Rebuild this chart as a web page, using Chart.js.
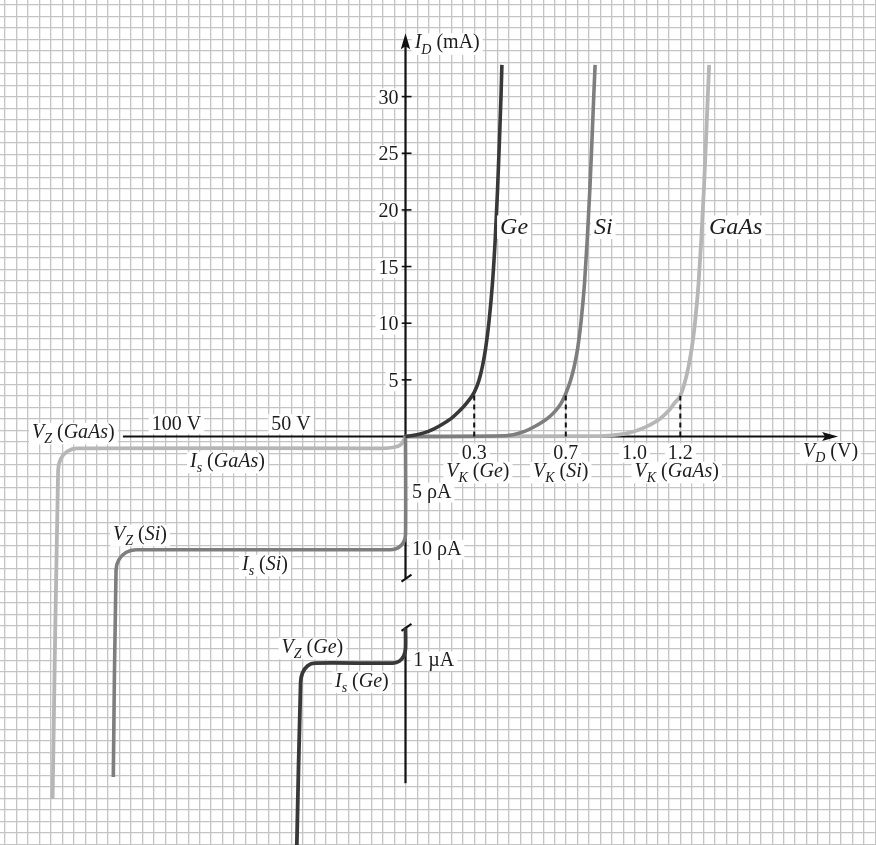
<!DOCTYPE html>
<html><head><meta charset="utf-8">
<script src="https://cdn.jsdelivr.net/npm/chart.js@4.4.1/dist/chart.umd.min.js"></script>
<style>html,body{margin:0;padding:0;background:#fff;}#wrap{width:876px;height:845px;}</style>
</head><body><div id="wrap"><canvas id="c" width="876" height="845"></canvas></div>
<script>
// ---- DATA (forward: volts / mA; reverse side of the V axis is drawn at a 1:100 scale,
//      reverse currents use the broken-axis chart units read off the picture) ----
const REVERSE_SCALE = 100;

const geForward = [[0,0],[0.05,0.15],[0.1,0.45],[0.15,0.95],[0.2,1.6],[0.233,2.2],[0.267,2.95],[0.3,3.9],[0.32,4.9],[0.336,6.2],[0.35,7.8],[0.365,10.2],[0.38,13.6],[0.392,17.5],[0.402,21.8],[0.41,26],[0.417,30],[0.421,32.8]];
const siForward = [[0,0],[0.4,0.04],[0.47,0.16],[0.52,0.45],[0.57,0.95],[0.62,1.6],[0.652,2.2],[0.68,2.95],[0.7,3.8],[0.72,4.9],[0.737,6.2],[0.752,7.8],[0.767,10.2],[0.782,13.6],[0.794,17.5],[0.805,21.8],[0.814,26],[0.822,30],[0.828,32.8]];
const gaasForward = [[0,0],[0.85,0.04],[0.93,0.16],[0.98,0.35],[1.02,0.6],[1.07,1.05],[1.11,1.55],[1.15,2.3],[1.177,3.0],[1.2,3.6],[1.22,4.8],[1.236,6.2],[1.25,7.8],[1.265,10.2],[1.28,13.6],[1.292,17.5],[1.303,21.8],[1.312,26],[1.32,30],[1.326,32.8]];

const geReverse = [[0,-16.9],[0,-18.7],[-0.74,-19.36],[-2.75,-19.84],[-5.5,-20],[-39.5,-20],[-42.7,-20.23],[-45,-20.88],[-45.8,-21.75],[-47.5,-36.5]];
const siReverse = [[0,0],[0,-8.7],[-0.87,-9.35],[-3.25,-9.83],[-6.5,-10],[-117.7,-10],[-122.1,-10.24],[-125.2,-10.89],[-126.4,-11.77],[-127.6,-30.05]];
const gaasReverse = [[0,0],[-0.5,-0.25],[-2,-0.7],[-5,-0.95],[-10,-1.04],[-143.4,-1.04],[-147.6,-1.3],[-150.6,-2.0],[-151.7,-3.0],[-154.1,-32.0]];

const kneeVoltages = [0.3, 0.7, 1.2];
const kneeCurrents = [3.9, 3.8, 3.6];

const yTickValues = [5, 10, 15, 20, 25, 30];
const xTickValues = [0.3, 0.7, 1.0, 1.2];
const reverseTickValues = [-100, -50];

const xAxisExtent = [-123.4, 1.889];
const yAxisSegments = [[35.6, -12.5], [-16.85, -30.6]];

const colors = { ge: '#383838', si: '#7e7e7e', gaas: '#b6b6b6' };

// ---- helpers ----
const dispX = v => v < 0 ? v / REVERSE_SCALE : v;
const pts = arr => arr.map(p => ({ x: dispX(p[0]), y: p[1] }));

const FONT = '"Liberation Serif","Times New Roman",serif';
function fontFor(seg, size) {
  const sub = seg[1].includes('s'), it = seg[1].includes('i');
  return (it ? 'italic ' : '') + (sub ? Math.round(size * 0.72) : size) + 'px ' + FONT;
}
function drawRich(ctx, segs, x, y, size, align) {
  let w = 0; const ws = [];
  segs.forEach(s => { ctx.font = fontFor(s, size); const m = ctx.measureText(s[0]).width; ws.push(m); w += m; });
  const x0 = align === 'center' ? x - w / 2 : align === 'right' ? x - w : x;
  const hasSub = segs.some(s => s[1].includes('s'));
  ctx.fillStyle = '#fff';
  ctx.fillRect(x0 - 3, y - size * 0.76, w + 6, size * (hasSub ? 1.08 : 0.98));
  ctx.fillStyle = '#1c1c1c'; ctx.textAlign = 'left'; ctx.textBaseline = 'alphabetic';
  let cx = x0;
  segs.forEach((s, i) => { ctx.font = fontFor(s, size); ctx.fillText(s[0], cx, y + (s[1].includes('s') ? size * 0.26 : 0)); cx += ws[i]; });
}

// label table: segments [text, style] (i = italic, s = subscript), anchor in V / chart units
const labels = [
  { s: [['I','i'],['D','is'],[' (mA)','']], x: 0.04, y: 34.25, size: 20, align: 'left' },
  { s: [['V','i'],['D','is'],[' (V)','']], x: 1.736, y: -1.81, size: 20, align: 'left' },
  { s: [['Ge','i']], x: 0.413, y: 17.9, size: 24, align: 'left' },
  { s: [['Si','i']], x: 0.823, y: 17.9, size: 24, align: 'left' },
  { s: [['GaAs','i']], x: 1.325, y: 17.9, size: 24, align: 'left' },
  { s: [['V','i'],['K','is'],[' (',''],['Ge','i'],[')','']], x: 0.178, y: -3.57, size: 20, align: 'left' },
  { s: [['V','i'],['K','is'],[' (',''],['Si','i'],[')','']], x: 0.557, y: -3.57, size: 20, align: 'left' },
  { s: [['V','i'],['K','is'],[' (',''],['GaAs','i'],[')','']], x: 1.0, y: -3.57, size: 20, align: 'left' },
  { s: [['V','i'],['Z','is'],[' (',''],['GaAs','i'],[')','']], x: -163.1, y: -0.13, size: 20, align: 'left' },
  { s: [['I','i'],['s','is'],[' (',''],['GaAs','i'],[')','']], x: -94.1, y: -2.69, size: 20, align: 'left' },
  { s: [['V','i'],['Z','is'],[' (',''],['Si','i'],[')','']], x: -127.7, y: -9.13, size: 20, align: 'left' },
  { s: [['I','i'],['s','is'],[' (',''],['Si','i'],[')','']], x: -71.4, y: -11.78, size: 20, align: 'left' },
  { s: [['V','i'],['Z','is'],[' (',''],['Ge','i'],[')','']], x: -54.1, y: -19.1, size: 20, align: 'left' },
  { s: [['I','i'],['s','is'],[' (',''],['Ge','i'],[')','']], x: -30.8, y: -22.08, size: 20, align: 'left' },
  { s: [['5 ρA','']], x: 0.028, y: -5.43, size: 20, align: 'left' },
  { s: [['10 ρA','']], x: 0.028, y: -10.46, size: 20, align: 'left' },
  { s: [['1 µA','']], x: 0.034, y: -20.3, size: 20, align: 'left' }
];

const diagramPlugin = {
  id: 'diagram',
  beforeDatasetsDraw(chart) {
    const { ctx, scales: { x, y } } = chart;
    const X = v => x.getPixelForValue(dispX(v)), Y = v => y.getPixelForValue(v);
    const x0 = X(0), y0 = Y(0);
    ctx.save();
    ctx.strokeStyle = '#111'; ctx.fillStyle = '#111'; ctx.lineWidth = 2.2; ctx.lineCap = 'butt';
    const xt = X(xAxisExtent[1]);
    ctx.beginPath(); ctx.moveTo(X(xAxisExtent[0]), y0); ctx.lineTo(xt - 10, y0); ctx.stroke();
    ctx.beginPath(); ctx.moveTo(xt, y0); ctx.lineTo(xt - 16, y0 - 4.5); ctx.lineTo(xt - 13, y0); ctx.lineTo(xt - 16, y0 + 4.5); ctx.closePath(); ctx.fill();
    yAxisSegments.forEach(([a, b], i) => {
      ctx.beginPath(); ctx.moveTo(x0, Y(a) + (i === 0 ? 10 : 0)); ctx.lineTo(x0, Y(b)); ctx.stroke();
    });
    const yt = Y(yAxisSegments[0][0]);
    ctx.beginPath(); ctx.moveTo(x0, yt); ctx.lineTo(x0 - 4.7, yt + 16); ctx.lineTo(x0, yt + 13); ctx.lineTo(x0 + 4.7, yt + 16); ctx.closePath(); ctx.fill();
    ctx.lineWidth = 2;
    [yAxisSegments[0][1], yAxisSegments[1][0]].forEach(v => {
      const yy = Y(v);
      ctx.beginPath(); ctx.moveTo(x0 - 4, yy + 3.5); ctx.lineTo(x0 + 6, yy - 3.5); ctx.stroke();
    });
    ctx.lineWidth = 1.6;
    yTickValues.forEach(v => { const yy = Y(v); ctx.beginPath(); ctx.moveTo(x0 - 4, yy); ctx.lineTo(x0 + 6, yy); ctx.stroke(); });
    ctx.restore();
  },
  afterDatasetsDraw(chart) {
    const { ctx, scales: { x, y } } = chart;
    const X = v => x.getPixelForValue(dispX(v)), Y = v => y.getPixelForValue(v);
    const x0 = X(0), y0 = Y(0);
    ctx.save();
    yTickValues.forEach(v => drawRich(ctx, [[String(v), '']], x0 - 7, Y(v) + 7, 20, 'right'));
    xTickValues.forEach(v => drawRich(ctx, [[v.toFixed(1), '']], X(v), y0 + 22, 20, 'center'));
    reverseTickValues.forEach(v => drawRich(ctx, [[Math.abs(v) + ' V', '']], X(v), y0 - 7, 20, 'center'));
    labels.forEach(l => drawRich(ctx, l.s, X(l.x), Y(l.y), l.size, l.align));
    ctx.restore();
  }
};

const curve = (data, color, width, order, extra) => Object.assign({
  data: pts(data), borderColor: color, borderWidth: width, pointRadius: 0, order, fill: false
}, extra);

const datasets = [
  curve(geForward, colors.ge, 3.6, 0, { cubicInterpolationMode: 'monotone' }),
  curve(geReverse, colors.ge, 3.8, 0, { tension: 0.25 }),
  curve(siForward, colors.si, 3.6, 1, { cubicInterpolationMode: 'monotone' }),
  curve(siReverse, colors.si, 3.6, 1, { tension: 0.25 }),
  curve(gaasForward, colors.gaas, 3.8, 2, { cubicInterpolationMode: 'monotone' }),
  curve(gaasReverse, colors.gaas, 3.8, 2, { tension: 0.25 })
];
kneeVoltages.forEach((v, i) => datasets.push({
  data: [{ x: v, y: 0 }, { x: v, y: kneeCurrents[i] }], borderColor: '#111', borderWidth: 2,
  borderDash: [5, 4], pointRadius: 0, order: -1
}));

const gridColor = ctx => (Math.abs(ctx.tick.value - Math.round(ctx.tick.value)) < 1e-6) ? '#c4c4c4' : 'rgba(0,0,0,0)';
const GRID = 11.45, GRIDY = 11.5;

new Chart(document.getElementById('c'), {
  type: 'line',
  data: { datasets },
  options: {
    responsive: false, animation: false, events: [],
    layout: { padding: 0 },
    plugins: { legend: { display: false }, tooltip: { enabled: false }, title: { display: false } },
    scales: {
      x: { type: 'linear', display: false, min: -405.5 / 229, max: (876 - 405.5) / 229 },
      y: { type: 'linear', display: false, min: -(845 - 436.5) / 11.33, max: 436.5 / 11.33 },
      gx: { type: 'linear', position: 'bottom', min: -5 / GRID, max: (876 - 5) / GRID,
            ticks: { display: false, stepSize: 1, includeBounds: false },
            grid: { drawTicks: false, color: gridColor, lineWidth: 1.3 }, border: { display: false } },
      gy: { type: 'linear', position: 'left', reverse: true, min: -5 / GRIDY, max: (845 - 5) / GRIDY,
            ticks: { display: false, stepSize: 1, includeBounds: false },
            grid: { drawTicks: false, color: gridColor, lineWidth: 1.3 }, border: { display: false } }
    }
  },
  plugins: [diagramPlugin]
});
</script>
</body></html>
